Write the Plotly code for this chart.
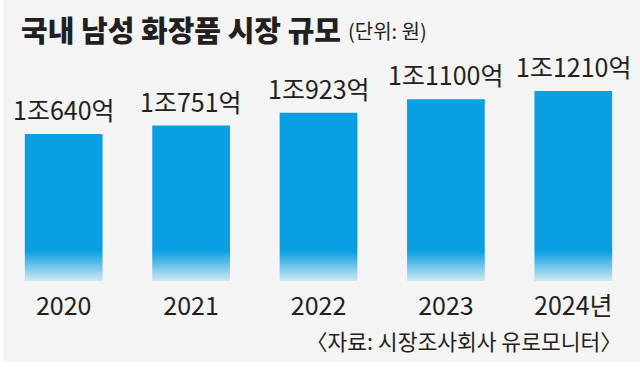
import base64
import plotly.graph_objects as go

years = ["2020", "2021", "2022", "2023", "2024년"]
values = [10640, 10751, 10923, 11100, 11210]  # 단위: 억 원
labels = ["1조640억", "1조751억", "1조923억", "1조1100억", "1조1210억"]

title_text = "국내 남성 화장품 시장 규모"
unit_text = "(단위: 원)"
source_text = "〈자료: 시장조사회사 유로모니터〉"

BG = "#f4f4f4"
BAR = "#0a9fe3"
INK = "#231f20"
FONT = "Noto Sans CJK KR, sans-serif"

PW, PH, MT, MB = 637, 221, 60, 86

svg = f"""<svg xmlns='http://www.w3.org/2000/svg' width='100' height='100' preserveAspectRatio='none'>
<defs><linearGradient id='g' x1='0' y1='0' x2='0' y2='1'>
<stop offset='0' stop-color='{BG}' stop-opacity='0'/>
<stop offset='1' stop-color='{BG}' stop-opacity='0.85'/>
</linearGradient></defs>
<rect x='0' y='0' width='100' height='100' fill='url(#g)'/></svg>"""
src = "data:image/svg+xml;base64," + base64.b64encode(svg.encode()).decode()

fig = go.Figure()
fig.add_trace(go.Bar(x=years, y=values, marker=dict(color=BAR, line=dict(width=0)),
                     hoverinfo="skip"))

for i, (v, lab) in enumerate(zip(values, labels)):
    fig.add_annotation(x=i, y=v, text=lab, showarrow=False, yanchor="bottom",
                       yshift=5, font=dict(family=FONT, size=25, color=INK))

fig.add_annotation(xref="paper", yref="paper", x=19 / PW, y=1 + 31 / PH,
                   xanchor="left", yanchor="middle", text=title_text,
                   showarrow=False,
                   font=dict(family="Noto Sans CJK KR", size=29, color=INK, weight=900))
fig.add_annotation(xref="paper", yref="paper", x=346 / PW, y=1 + 30 / PH,
                   xanchor="left", yanchor="middle", text=unit_text,
                   showarrow=False, font=dict(family=FONT, size=20, color=INK))
fig.add_annotation(xref="paper", yref="paper", x=624 / PW, y=-(340 - 281) / PH,
                   xanchor="right", yanchor="middle", text=source_text,
                   showarrow=False, font=dict(family=FONT, size=21.5, color=INK))

fig.add_layout_image(dict(source=src, xref="paper", yref="paper", x=0, y=30 / PH,
                          sizex=1, sizey=30 / PH, sizing="stretch", xanchor="left",
                          yanchor="top", layer="above", opacity=1))

# thin white frame at left and bottom edges
fig.add_shape(type="rect", xref="paper", yref="paper", x0=0, x1=3 / PW,
              y0=-MB / PH, y1=1 + MT / PH, fillcolor="white", line=dict(width=0), layer="above")
fig.add_shape(type="rect", xref="paper", yref="paper", x0=0, x1=1 + 3 / PW,
              y0=-MB / PH, y1=-(362 - 281) / PH, fillcolor="white", line=dict(width=0), layer="above")

fig.update_layout(
    width=640, height=367,
    margin=dict(l=0, r=3, t=MT, b=MB),
    paper_bgcolor=BG, plot_bgcolor=BG,
    bargap=0.39, showlegend=False,
    xaxis=dict(type="category", range=[-0.5, len(years) - 0.5], showgrid=False,
               showline=False, zeroline=False, ticks="", ticklabelstandoff=8,
               tickfont=dict(family=FONT, size=25, color=INK), fixedrange=True),
    yaxis=dict(range=[8691, 11621], visible=False, fixedrange=True),
)

fig.write_html("out.html", config={"displayModeBar": False},
               post_script="document.body.style.margin='0';")
